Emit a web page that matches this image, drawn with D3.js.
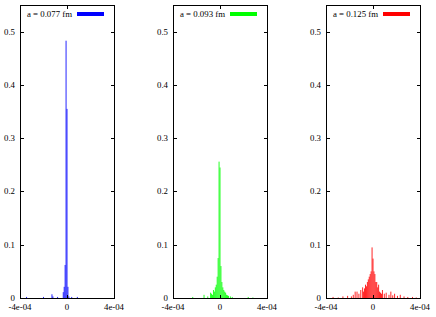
<!DOCTYPE html>
<html>
<head>
<meta charset="utf-8">
<script src="https://cdn.jsdelivr.net/npm/d3@7"></script>
<style>
  body { margin: 0; background: #fff; }
  text { font-family: 'Liberation Serif', 'DejaVu Serif', serif; font-size: 8.8px; fill: #000; }
</style>
</head>
<body>
<div id="chart"></div>
<script>
// bin centres in units of 1e-6, bin width 8e-6
const binWidth = 8

const labels = ['a = 0.077 fm', 'a = 0.093 fm', 'a = 0.125 fm']
const colors = ['#0000ff', '#00ff00', '#ff0000']

const centers1 = [-344, -200, -128, -120, -80, -32, -24, -16, -8, 0, 8, 16, 40, 88]
const values1 = [0.002, 0.002, 0.007, 0.003, 0.002, 0.011, 0.021, 0.062, 0.483, 0.355, 0.021, 0.003, 0.002, 0.002]

const centers2 = [-232, -136, -104, -80, -72, -64, -56, -48, -40, -32, -24, -16, -8, 0, 8, 16, 24, 32, 40, 48, 56, 64, 72, 88, 104, 240, 280]
const values2 = [0.002, 0.006, 0.003, 0.01, 0.008, 0.006, 0.015, 0.012, 0.02, 0.025, 0.04, 0.075, 0.256, 0.245, 0.06, 0.03, 0.02, 0.015, 0.012, 0.01, 0.006, 0.005, 0.004, 0.003, 0.002, 0.002, 0.001]

const centers3 = [-340, -296, -256, -216, -184, -168, -152, -136, -120, -104, -88, -80, -72, -64, -56, -48, -40, -32, -24, -16, -8, 0, 8, 16, 24, 32, 40, 48, 56, 64, 72, 80, 96, 112, 136, 152, 168, 184, 208, 232, 264, 296, 336, 368]
const values3 = [0.002, 0.001, 0.003, 0.004, 0.003, 0.006, 0.012, 0.012, 0.008, 0.015, 0.02, 0.012, 0.018, 0.025, 0.022, 0.03, 0.035, 0.04, 0.045, 0.05, 0.095, 0.074, 0.05, 0.045, 0.03, 0.03, 0.02, 0.025, 0.012, 0.01, 0.008, 0.015, 0.008, 0.01, 0.006, 0.012, 0.005, 0.008, 0.004, 0.006, 0.003, 0.002, 0.002, 0.001]

const xTicks = [-400, 0, 400]
const xTickLabels = ['-4e-04', '0', '4e-04']
const yTicks = [0, 0.1, 0.2, 0.3, 0.4, 0.5]

const panels = [
  { centers: centers1, values: values1 },
  { centers: centers2, values: values2 },
  { centers: centers3, values: values3 }
]

const W = 436
const H = 317
const panelLefts = [20, 173, 326]
const panelW = 94
const plotTop = 5
const plotBottom = 298

const svg = d3.select('#chart')
  .append('svg')
  .attr('width', W)
  .attr('height', H)

const y = d3.scaleLinear().domain([0, 0.55]).range([plotBottom, plotTop])

panels.forEach((p, i) => {
  const left = panelLefts[i]
  const x = d3.scaleLinear().domain([-400, 400]).range([left, left + panelW])
  const g = svg.append('g')

  // bars
  const bw = x(binWidth) - x(0)
  g.selectAll('rect.bar')
    .data(p.centers.map((c, k) => ({ c, v: p.values[k] })))
    .join('rect')
    .attr('class', 'bar')
    .attr('x', d => x(d.c) - bw / 2)
    .attr('y', d => y(d.v))
    .attr('width', bw)
    .attr('height', d => y(0) - y(d.v))
    .attr('fill', colors[i])
    .attr('fill-opacity', 0.9)

  // frame
  g.append('rect')
    .attr('x', left + 0.5)
    .attr('y', plotTop + 0.5)
    .attr('width', panelW)
    .attr('height', plotBottom - plotTop)
    .attr('fill', 'none')
    .attr('stroke', '#000')
    .attr('stroke-width', 1)

  // y ticks, inward on both sides
  yTicks.forEach(t => {
    const yy = Math.round(y(t)) + 0.5
    g.append('line').attr('x1', left).attr('x2', left + 4).attr('y1', yy).attr('y2', yy).attr('stroke', '#000')
    g.append('line').attr('x1', left + panelW - 3).attr('x2', left + panelW + 1).attr('y1', yy).attr('y2', yy).attr('stroke', '#000')
    g.append('text')
      .attr('x', left - 5)
      .attr('y', y(t) + 3)
      .attr('text-anchor', 'end')
      .text(d3.format('')(t))
  })

  // x ticks, inward top and bottom
  xTicks.forEach((t, k) => {
    const xx = Math.round(x(t)) + 0.5
    g.append('line').attr('x1', xx).attr('x2', xx).attr('y1', plotTop).attr('y2', plotTop + 4).attr('stroke', '#000')
    g.append('line').attr('x1', xx).attr('x2', xx).attr('y1', plotBottom - 3).attr('y2', plotBottom + 1).attr('stroke', '#000')
    g.append('text')
      .attr('x', x(t))
      .attr('y', 310)
      .attr('text-anchor', 'middle')
      .text(xTickLabels[k])
  })

  // legend
  g.append('text')
    .attr('x', left + 7)
    .attr('y', 16.5)
    .text(labels[i])
  g.append('rect')
    .attr('x', left + 57)
    .attr('y', 12)
    .attr('width', 27)
    .attr('height', 4)
    .attr('fill', colors[i])
})
</script>
</body>
</html>
